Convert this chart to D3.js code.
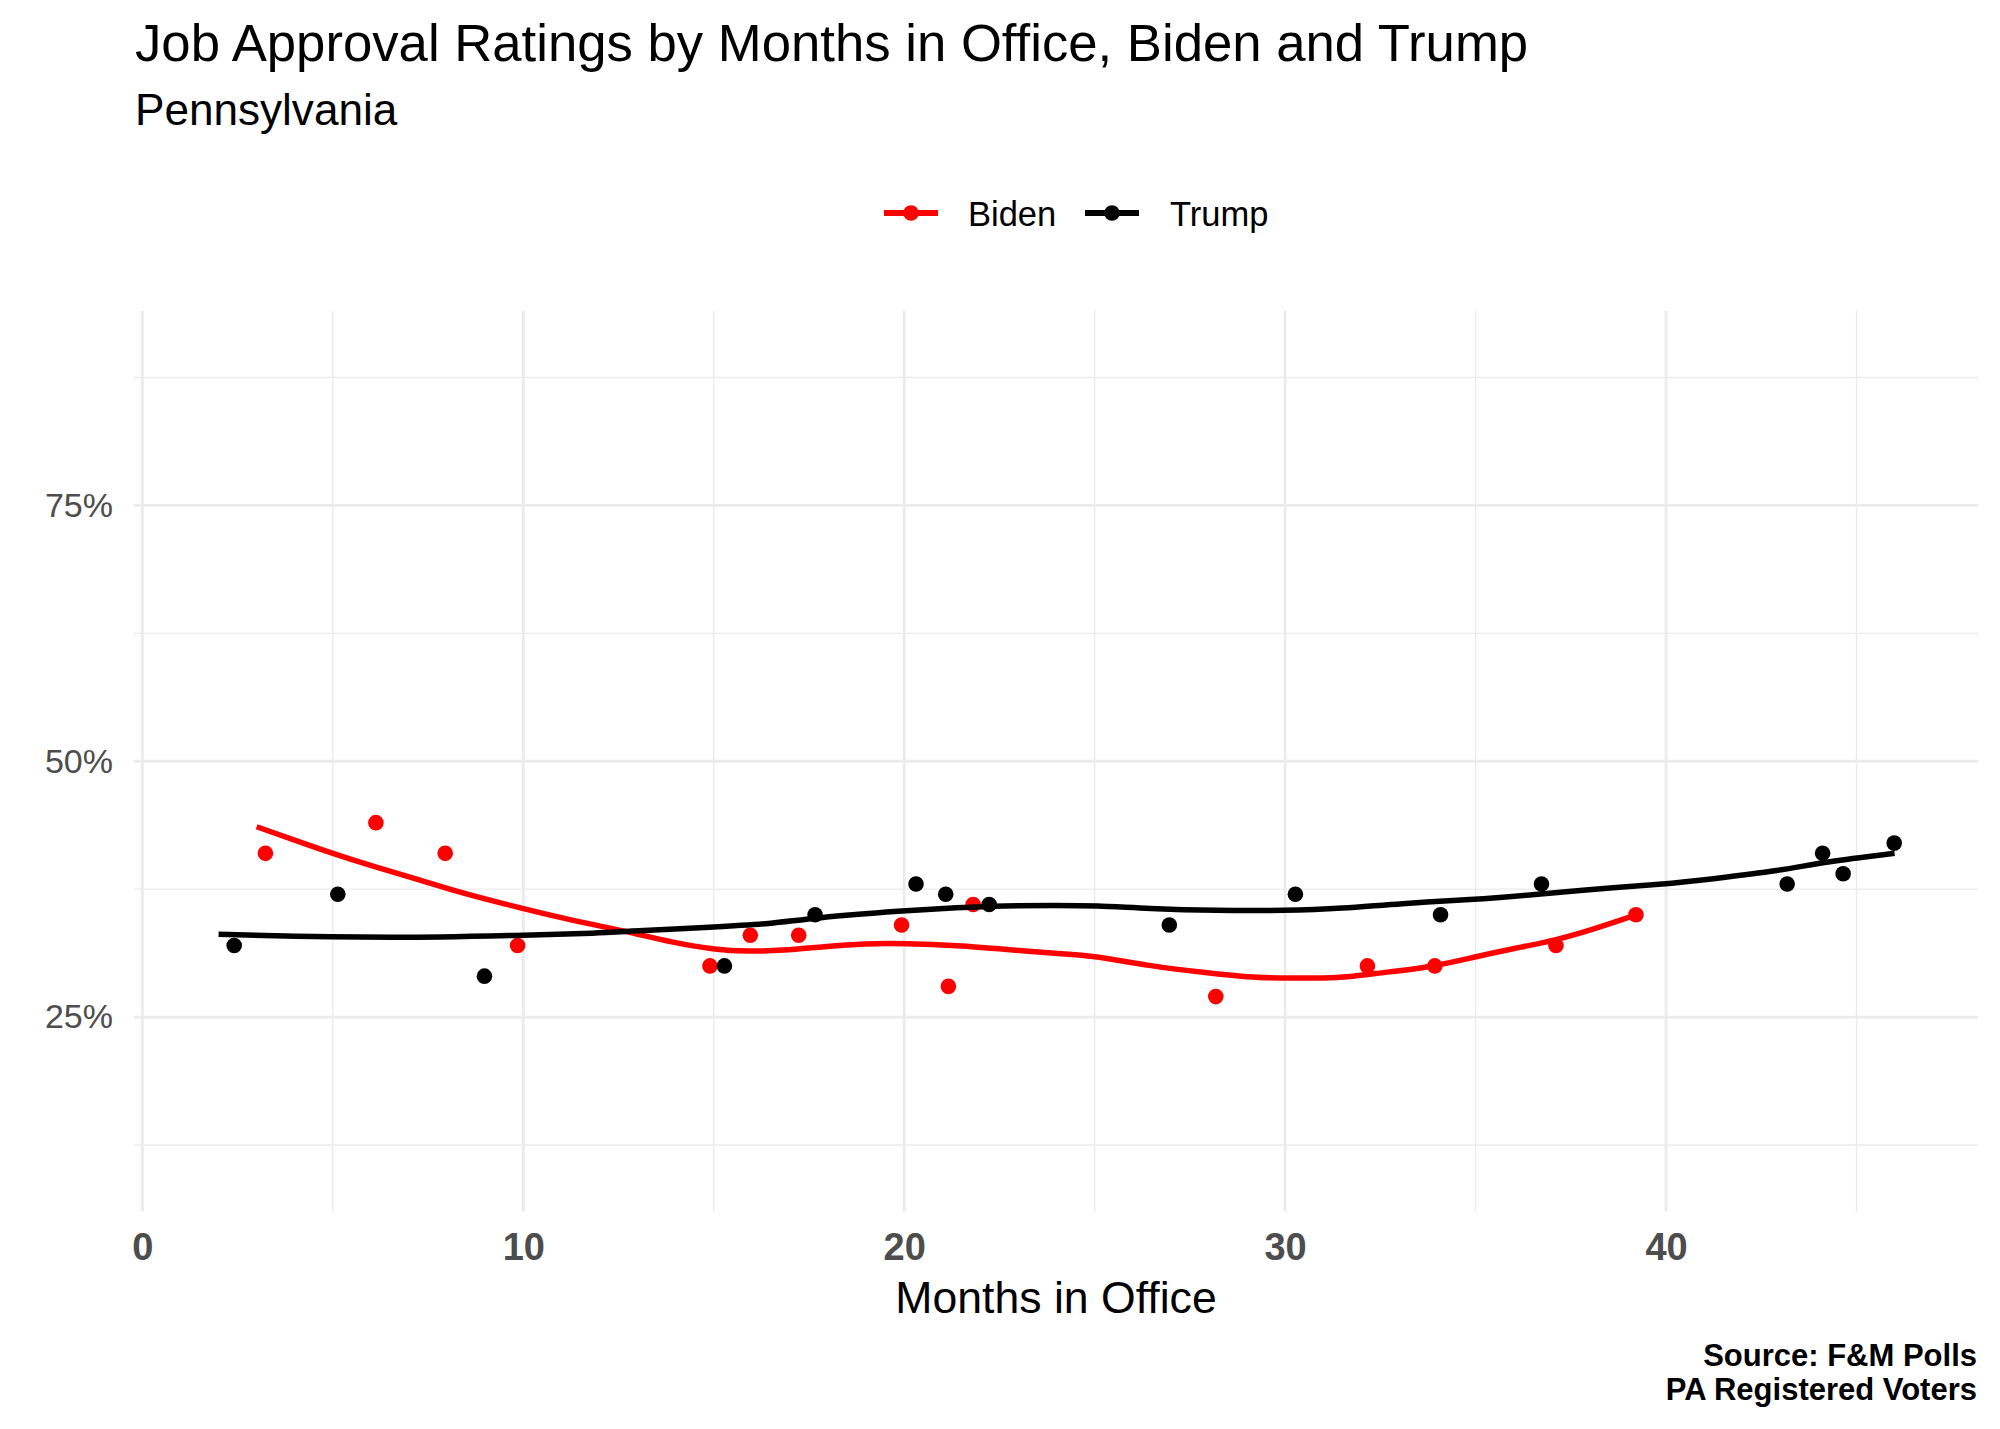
<!DOCTYPE html>
<html>
<head>
<meta charset="utf-8">
<script src="https://cdn.jsdelivr.net/npm/d3@7"></script>
<style>
  html, body { margin: 0; padding: 0; background: #fff; }
  svg { display: block; font-family: "Liberation Sans", Arial, sans-serif; }
</style>
</head>
<body>
<svg id="chart" width="2000" height="1429"></svg>
<script>
// ---- Data ----
const seriesNames = ["Biden", "Trump"];
const seriesColors = ["#ff0000", "#000000"];

// poll points (months in office, approval %)
const bidenMonths = [3.23, 6.13, 7.95, 9.85, 14.90, 15.96, 17.23, 19.93, 21.16, 21.81, 28.18, 32.16, 33.93, 37.11, 39.21];
const bidenApproval = [41, 44, 41, 32, 30, 33, 33, 34, 28, 36, 27, 30, 30, 32, 35];
const trumpMonths = [2.41, 5.13, 8.98, 15.28, 17.66, 20.31, 21.09, 22.23, 26.96, 30.27, 34.08, 36.73, 43.18, 44.11, 44.65, 45.99];
const trumpApproval = [32, 37, 29, 30, 35, 38, 37, 36, 34, 37, 35, 38, 38, 41, 39, 42];

// smoothed trend lines
const bidenTrendMonths = [3.0, 4.9, 6.0, 7.3, 8.4, 10.0, 11.0, 12.0, 12.8, 13.9, 15.0, 15.9, 16.8, 17.9, 19.0, 20.0, 21.4, 22.7, 24.0, 25.0, 26.4, 28.0, 29.0, 30.0, 31.5, 32.2, 33.9, 35.0, 36.0, 37.1, 38.1, 39.0, 39.2];
const bidenTrendValues = [43.6, 41.1, 39.8, 38.4, 37.1, 35.6, 34.7, 33.9, 33.3, 32.3, 31.6, 31.4, 31.5, 31.9, 32.2, 32.2, 32.0, 31.6, 31.2, 31.0, 30.0, 29.3, 28.9, 28.8, 28.8, 29.2, 29.9, 30.9, 31.7, 32.5, 33.6, 34.7, 35.0];
const trumpTrendMonths = [2.0, 4.9, 8.0, 10.0, 12.0, 12.8, 15.0, 16.5, 17.6, 20.0, 21.4, 22.6, 24.0, 25.0, 26.4, 28.2, 30.0, 31.5, 33.0, 35.0, 36.1, 37.7, 40.0, 41.2, 43.0, 44.2, 46.0];
const trumpTrendValues = [33.1, 32.8, 32.8, 33.0, 33.2, 33.4, 33.8, 34.1, 34.7, 35.4, 35.7, 35.9, 35.9, 35.9, 35.6, 35.4, 35.4, 35.6, 36.1, 36.5, 36.8, 37.4, 38.0, 38.5, 39.3, 40.2, 41.0];

const xTicks = [0, 10, 20, 30, 40];
const xMinorTicks = [5, 15, 25, 35, 45];
const yTicks = [25, 50, 75];
const yMinorTicks = [12.5, 37.5, 62.5, 87.5];

const titleText = "Job Approval Ratings by Months in Office, Biden and Trump";
const subtitleText = "Pennsylvania";
const xTitle = "Months in Office";
const captionLines = ["Source: F&M Polls", "PA Registered Voters"];

// ---- Layout ----
const panel = { left: 134, right: 1978, top: 311, bottom: 1211.5 };
const svg = d3.select("#chart");

const x = d3.scaleLinear().domain([-0.22, 48.19]).range([panel.left, panel.right]);
const y = d3.scaleLinear().domain([6, 94]).range([panel.bottom, panel.top]);

const grid = svg.append("g");
// minor gridlines
grid.selectAll("line.ymin").data(yMinorTicks).join("line")
  .attr("x1", panel.left).attr("x2", panel.right)
  .attr("y1", d => y(d)).attr("y2", d => y(d))
  .attr("stroke", "#ebebeb").attr("stroke-width", 1.4);
grid.selectAll("line.xmin").data(xMinorTicks).join("line")
  .attr("y1", panel.top).attr("y2", panel.bottom)
  .attr("x1", d => x(d)).attr("x2", d => x(d))
  .attr("stroke", "#ebebeb").attr("stroke-width", 1.4);
// major gridlines
grid.selectAll("line.ymaj").data(yTicks).join("line")
  .attr("x1", panel.left).attr("x2", panel.right)
  .attr("y1", d => y(d)).attr("y2", d => y(d))
  .attr("stroke", "#ebebeb").attr("stroke-width", 2.8);
grid.selectAll("line.xmaj").data(xTicks).join("line")
  .attr("y1", panel.top).attr("y2", panel.bottom)
  .attr("x1", d => x(d)).attr("x2", d => x(d))
  .attr("stroke", "#ebebeb").attr("stroke-width", 2.8);

// axes
const yAxis = svg.append("g").attr("transform", `translate(${panel.left},0)`)
  .call(d3.axisLeft(y).tickValues(yTicks).tickSize(0).tickPadding(21).tickFormat(d => d + "%"));
yAxis.select(".domain").remove();
yAxis.selectAll("text").attr("font-size", 34).attr("fill", "#4d4d4d")
  .attr("font-family", "'Liberation Sans', Arial, sans-serif");

const xAxis = svg.append("g").attr("transform", `translate(0,${panel.bottom})`)
  .call(d3.axisBottom(x).tickValues(xTicks).tickSize(0).tickPadding(22).tickFormat(d3.format("d")));
xAxis.select(".domain").remove();
xAxis.selectAll("text").attr("font-size", 38).attr("font-weight", "bold").attr("fill", "#4d4d4d")
  .attr("font-family", "'Liberation Sans', Arial, sans-serif");

// points
const pts = [
  { name: "Biden", color: seriesColors[0], xs: bidenMonths, ys: bidenApproval },
  { name: "Trump", color: seriesColors[1], xs: trumpMonths, ys: trumpApproval }
];
pts.forEach(s => {
  svg.append("g").selectAll("circle").data(s.xs.map((m, i) => [m, s.ys[i]])).join("circle")
    .attr("cx", d => x(d[0])).attr("cy", d => y(d[1])).attr("r", 7.8).attr("fill", s.color);
});

// trend lines
const line = d3.line().x(d => x(d[0])).y(d => y(d[1])).curve(d3.curveBasis);
const trends = [
  { color: seriesColors[0], xs: bidenTrendMonths, ys: bidenTrendValues },
  { color: seriesColors[1], xs: trumpTrendMonths, ys: trumpTrendValues }
];
trends.forEach(t => {
  svg.append("path").datum(t.xs.map((m, i) => [m, t.ys[i]]))
    .attr("d", line).attr("fill", "none").attr("stroke", t.color)
    .attr("stroke-width", 5.5).attr("stroke-linejoin", "round");
});

// titles
svg.append("text").attr("x", 135).attr("y", 61).attr("font-size", 52.7).attr("fill", "#000").text(titleText);
svg.append("text").attr("x", 135).attr("y", 125).attr("font-size", 44.1).attr("fill", "#000").text(subtitleText);

// legend
const legendItems = [
  { name: seriesNames[0], color: seriesColors[0], kx: 884, tx: 968 },
  { name: seriesNames[1], color: seriesColors[1], kx: 1085, tx: 1170 }
];
const ly = 213;
legendItems.forEach(it => {
  svg.append("line").attr("x1", it.kx).attr("x2", it.kx + 54).attr("y1", ly).attr("y2", ly)
    .attr("stroke", it.color).attr("stroke-width", 6);
  svg.append("circle").attr("cx", it.kx + 27).attr("cy", ly).attr("r", 7.8).attr("fill", it.color);
  svg.append("text").attr("x", it.tx).attr("y", ly + 12.5).attr("font-size", 34.5).attr("fill", "#000").text(it.name);
});

// x-axis title
svg.append("text").attr("x", (panel.left + panel.right) / 2).attr("y", 1313)
  .attr("text-anchor", "middle").attr("font-size", 44.6).attr("fill", "#000").text(xTitle);

// caption
captionLines.forEach((c, i) => {
  svg.append("text").attr("x", 1977).attr("y", 1366 + i * 33.5)
    .attr("text-anchor", "end").attr("font-size", 31).attr("font-weight", "bold").attr("fill", "#000").text(c);
});
</script>
</body>
</html>
